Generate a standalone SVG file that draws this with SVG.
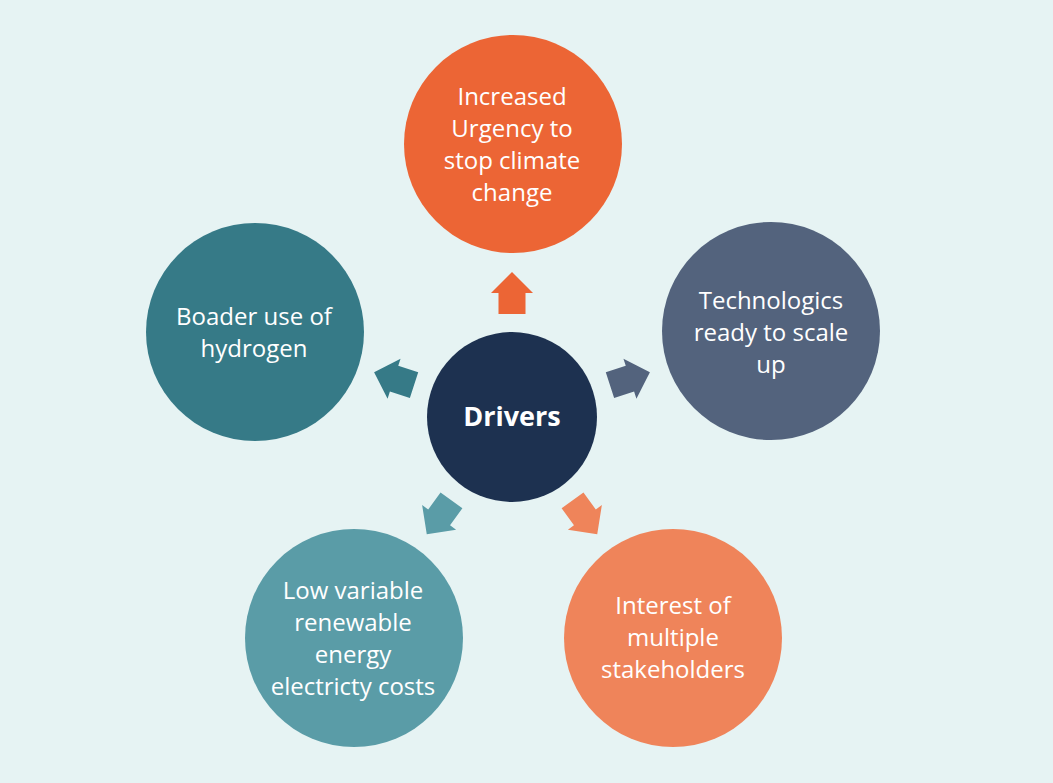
<svg xmlns="http://www.w3.org/2000/svg" width="1053" height="783" viewBox="0 0 1053 783">
<style>
.t{font-family:"Open Sans","Liberation Sans",sans-serif;font-size:24px;fill:#fff;text-anchor:middle}
.b{font-family:"Open Sans","Liberation Sans",sans-serif;font-size:27px;font-weight:bold;fill:#fff;text-anchor:middle}
</style>
<defs>
<path id="arr" d="M103,-13.5 L124,-13.5 L124,-21 L145,0 L124,21 L124,13.5 L103,13.5 Z"/>
</defs>
<rect width="1053" height="783" fill="#E6F3F3"/>
<g id="connectors">
<use href="#arr" transform="translate(512,417) rotate(-90)" fill="#EC6535"/>
<use href="#arr" transform="translate(512,417) rotate(-18)" fill="#53637D"/>
<use href="#arr" transform="translate(512,417) rotate(54)" fill="#EF845A"/>
<use href="#arr" transform="translate(512,417) rotate(126)" fill="#5A9CA7"/>
<use href="#arr" transform="translate(512,417) rotate(198)" fill="#367A87"/>
</g>
<g id="center">
<circle cx="512" cy="417" r="85" fill="#1D3150"/>
<text class="b" x="512" y="426">Drivers</text>
</g>
<g id="n-top">
<circle cx="513" cy="144" r="109" fill="#EC6535"/>
<text class="t" x="512" y="105">Increased</text>
<text class="t" x="512" y="137">Urgency to</text>
<text class="t" x="512" y="169">stop climate</text>
<text class="t" x="512" y="201">change</text>
</g>
<g id="n-right">
<circle cx="771" cy="331" r="109" fill="#53637D"/>
<text class="t" x="771" y="309">Technologics</text>
<text class="t" x="771" y="341">ready to scale</text>
<text class="t" x="771" y="373">up</text>
</g>
<g id="n-left">
<circle cx="255" cy="332" r="109" fill="#367A87"/>
<text class="t" x="254" y="325">Boader use of</text>
<text class="t" x="254" y="357">hydrogen</text>
</g>
<g id="n-bl">
<circle cx="354" cy="638" r="109" fill="#5A9CA7"/>
<text class="t" x="353" y="599">Low variable</text>
<text class="t" x="353" y="631">renewable</text>
<text class="t" x="353" y="663">energy</text>
<text class="t" x="353" y="695">electricty costs</text>
</g>
<g id="n-br">
<circle cx="673" cy="638" r="109" fill="#EF845A"/>
<text class="t" x="673" y="614">Interest of</text>
<text class="t" x="673" y="646">multiple</text>
<text class="t" x="673" y="678">stakeholders</text>
</g>
</svg>
